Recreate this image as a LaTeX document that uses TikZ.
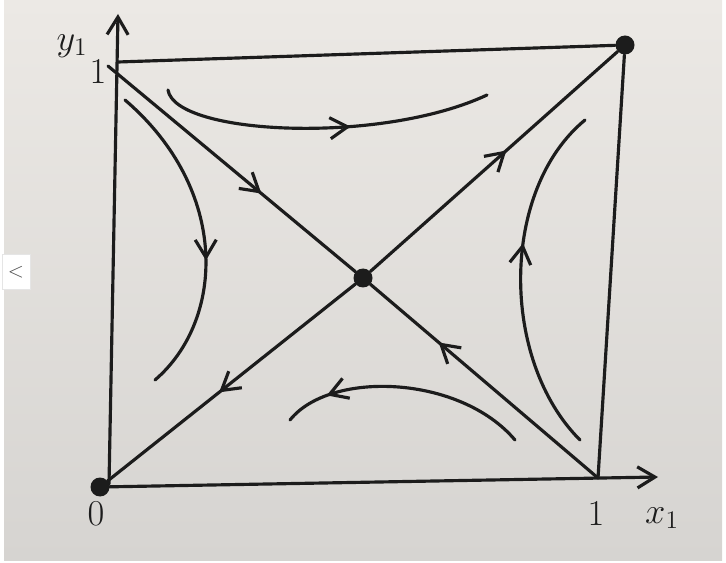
\documentclass[tikz,border=0pt]{standalone}
\usetikzlibrary{arrows.meta,decorations.markings}
\definecolor{paper}{RGB}{236,233,229}
\definecolor{papershade}{RGB}{214,212,209}
\definecolor{ink}{RGB}{28,28,28}
\begin{document}
\begin{tikzpicture}[x=0.02cm, y=-0.02cm,
    pen/.style={draw=ink, line width=1.8pt, line cap=round, line join=round},
    fixpt/.style={circle, fill=ink, inner sep=0pt, minimum size=0.38cm},
    lbl/.style={text=ink, font=\huge},
    flowat/.style={postaction={decorate}, decoration={markings,
        mark=at position #1 with {\arrow[ink]{Straight Barb[length=10pt, width=12pt, line width=1.8pt]}}}}]
  % photo background
  \useasboundingbox (0,0) rectangle (726,563);
  \shade[top color=paper, bottom color=papershade] (4,0) rectangle (722,560);
  \node[draw=black!10, fill=white, minimum width=0.5cm, minimum height=0.7cm,
        text=black!70, font=\large] (back) at (16,272) {$<$};

  % equilibria
  \node[fixpt] (O) at (100,487) {};
  \node[fixpt] (C) at (363,278) {};
  \node[fixpt] (T) at (625,45) {};
  \coordinate (X) at (598,478);
  \coordinate (Y) at (108,66);
  \coordinate (ybase) at (109,484);
  \coordinate (xend) at (658,477);
  \coordinate (yend) at (118,14);

  % axes and square
  \draw[pen, -{Straight Barb[length=10pt, width=12pt]}] (O.center) -- (xend);
  \draw[pen, -{Straight Barb[length=10pt, width=12pt]}] (ybase) -- (yend);
  \draw[pen] (118,62) -- (T);
  \draw[pen] (T) -- (X);

  % diagonals
  \draw[pen, flowat=0.55] (C) -- (T);
  \draw[pen, flowat=0.55] (C) -- (O);
  \draw[pen, flowat=0.62] (Y) -- (C);
  \draw[pen, flowat=0.70] (X) -- (C);

  % trajectories
  \draw[pen, flowat=0.58] (168,90) .. controls (175,135) and (380,145) .. (487,95);
  \draw[pen, flowat=0.82] (515,440) .. controls (460,375) and (330,370) .. (290,420);
  \draw[pen, flowat=0.58] (125,100) .. controls (230,190) and (225,320) .. (155,380);
  \draw[pen, flowat=0.60] (580,440) .. controls (500,360) and (500,190) .. (585,120);

  % labels
  \node[lbl] (ylab) at (72,46) {$y_1$};
  \node[lbl] (yone) at (98,72) {$1$};
  \node[lbl] (zero) at (96,514) {$0$};
  \node[lbl] (xone) at (596,514) {$1$};
  \node[lbl] (xlab) at (662,518) {$x_1$};
\end{tikzpicture}
\end{document}
